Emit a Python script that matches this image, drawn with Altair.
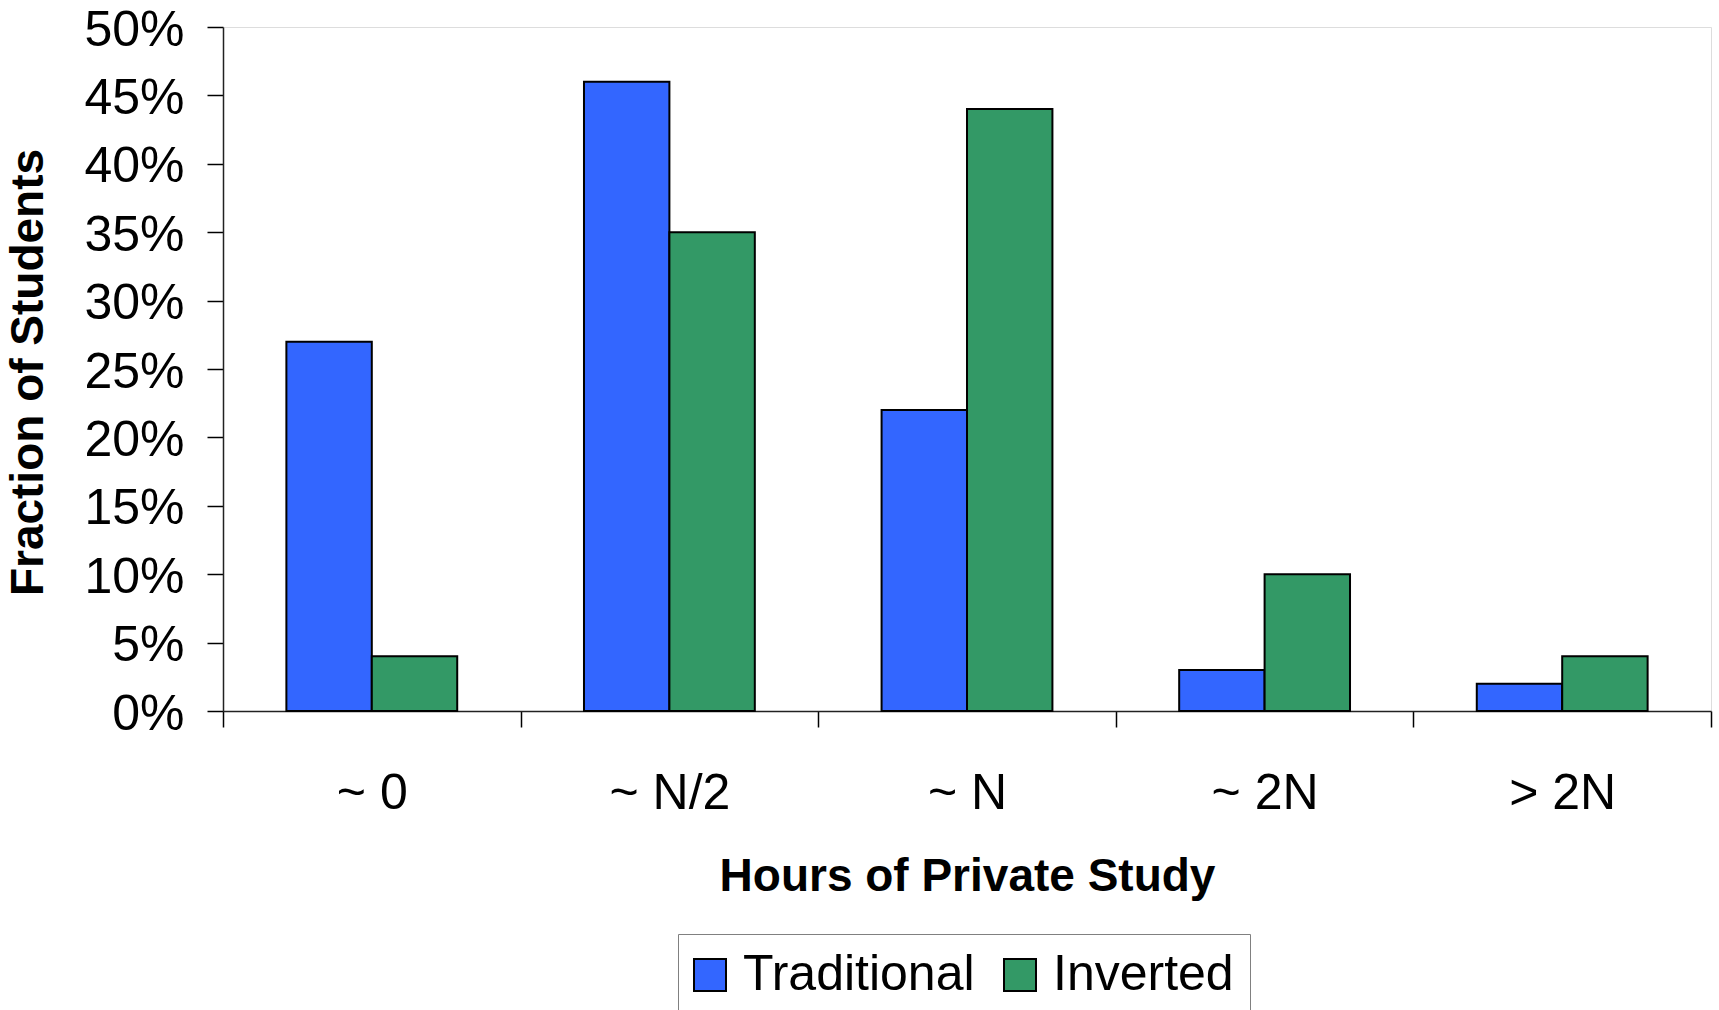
import altair as alt
import pandas as pd

# Survey results: share of students by hours of private study
categories = ["~ 0", "~ N/2", "~ N", "~ 2N", "> 2N"]
groups = ["Traditional", "Inverted"]
traditional = [0.27, 0.46, 0.22, 0.03, 0.02]
inverted = [0.04, 0.35, 0.44, 0.10, 0.04]
y_ticks = [0.0, 0.05, 0.10, 0.15, 0.20, 0.25, 0.30, 0.35, 0.40, 0.45, 0.50]
colors = ["#3366FF", "#339966"]

rows = []
for cat, t, i in zip(categories, traditional, inverted):
    rows.append({"hours": cat, "course": "Traditional", "fraction": t})
    rows.append({"hours": cat, "course": "Inverted", "fraction": i})
df = pd.DataFrame(rows)

FONT = "Liberation Sans"

bars = alt.Chart(df).mark_bar(stroke="black", strokeWidth=2).encode(
    x=alt.X(
        "hours:N",
        sort=categories,
        scale=alt.Scale(paddingInner=0, paddingOuter=0),
        axis=alt.Axis(
            title="Hours of Private Study",
            tickBand="extent",
            labelAngle=0,
            labelFontSize=50,
            labelFont=FONT,
            labelColor="black",
            labelBaseline="alphabetic",
            labelPadding=81,
            tickSize=16,
            tickColor="black",
            tickWidth=1.5,
            domainColor="#222",
            domainWidth=1.5,
            titleFont=FONT,
            titleFontSize=46,
            titleFontWeight="bold",
            titleColor="black",
            titleBaseline="alphabetic",
            titleX=744,
            titleY=179,
        ),
    ),
    xOffset=alt.XOffset(
        "course:N",
        sort=groups,
        scale=alt.Scale(paddingInner=0, paddingOuter=0.742),
    ),
    y=alt.Y(
        "fraction:Q",
        scale=alt.Scale(domain=[0, 0.5], nice=False),
        axis=alt.Axis(
            title="Fraction of Students",
            values=y_ticks,
            format=".0%",
            grid=False,
            labelFontSize=50,
            labelFont=FONT,
            labelColor="black",
            labelPadding=23,
            labelOffset=3,
            tickSize=16,
            tickColor="black",
            tickWidth=1.5,
            domainColor="#222",
            domainWidth=1.5,
            titleFont=FONT,
            titleFontSize=46,
            titleFontWeight="bold",
            titleColor="black",
            titleBaseline="alphabetic",
            titleAngle=-90,
            titleX=-181,
            titleY=345,
        ),
    ),
    color=alt.Color(
        "course:N",
        sort=groups,
        scale=alt.Scale(domain=groups, range=colors),
        legend=alt.Legend(
            title=None,
            orient="none",
            legendX=455,
            legendY=907,
            direction="horizontal",
            columns=2,
            symbolType="square",
            symbolSize=1024,
            symbolStrokeColor="black",
            symbolStrokeWidth=2,
            symbolOpacity=1,
            symbolOffset=-9,
            labelFont=FONT,
            labelFontSize=50,
            labelColor="black",
            labelLimit=500,
            labelOffset=8,
            columnPadding=25,
            padding=16,
            strokeColor="#808080",
            fillColor="white",
        ),
    ),
)

chart = bars.properties(
    width=1488,
    height=684,
    autosize=alt.AutoSizeParams(type="none"),
    padding={"left": 223, "top": 27, "right": 8, "bottom": 299},
).configure_view(
    stroke="#808080",
    strokeWidth=2,
).configure(background="white")

chart.save("out.html", embed_options={"renderer": "svg", "actions": False})
